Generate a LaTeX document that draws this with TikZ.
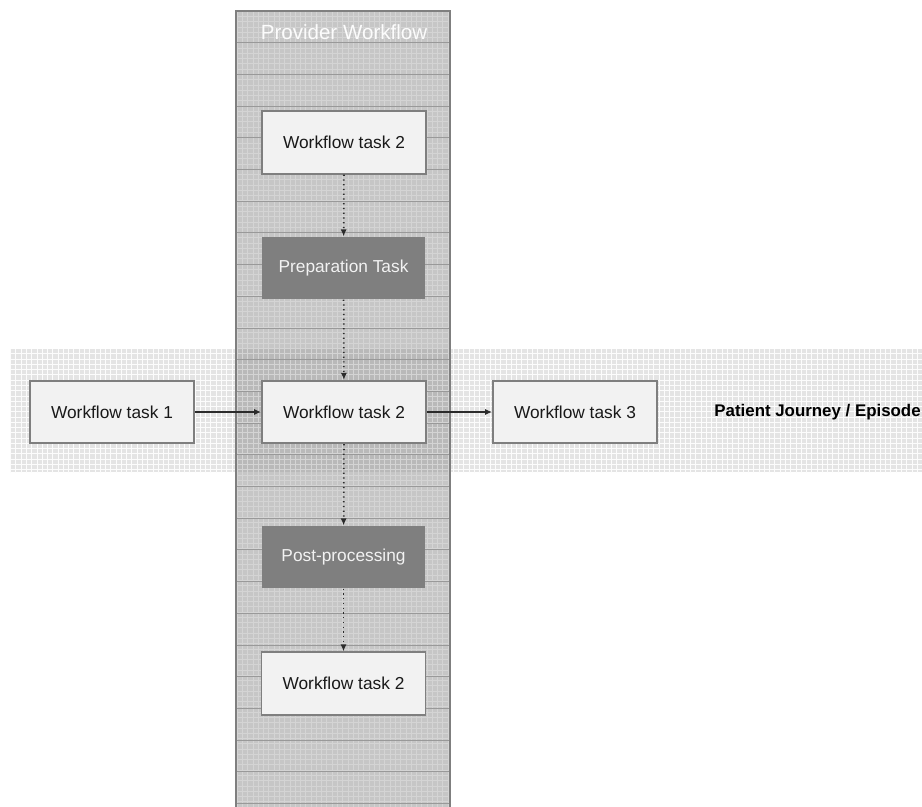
\documentclass[tikz,border=0pt]{standalone}
\usepackage{fontspec}
\setmainfont{Liberation Sans}
\usepackage{tikz}
\usetikzlibrary{arrows.meta, positioning, patterns}

\definecolor{laneGray}{HTML}{C6C6C6}
\definecolor{laneOver}{HTML}{B9B9B9}
\definecolor{laneLine}{HTML}{999999}
\definecolor{bandGray}{HTML}{E4E4E4}
\definecolor{taskFill}{HTML}{F2F2F2}
\definecolor{taskLine}{HTML}{7F7F7F}
\definecolor{darkTask}{HTML}{7F7F7F}
\definecolor{arrowGray}{HTML}{2B2B2B}

\begin{document}
\begin{tikzpicture}[x=0.02cm, y=-0.02cm,
    task/.style={draw=taskLine, line width=1pt, fill=taskFill, minimum width=3.28cm, minimum height=1.25cm,
        font=\fontsize{9.85}{12}\selectfont, text=black!90},
    subtask/.style={fill=darkTask, minimum width=3.26cm, minimum height=1.25cm,
        font=\fontsize{9.85}{12}\selectfont, text=taskFill},
    flow/.style={draw=arrowGray, line width=0.7pt, -{Latex[length=4pt, width=3.5pt]}},
    dotflow/.style={flow, dotted, line width=1pt}]
    \useasboundingbox (0,0) rectangle (922,807);

    % Patient journey band
    \fill[bandGray] (10,349) rectangle (922,472);
    \fill[pattern=grid, pattern color=white!90!bandGray] (10,349) rectangle (922,472);

    % Provider workflow lane
    \fill[laneGray] (236,11) rectangle (450,807);
    \fill[laneOver] (236,349) rectangle (450,472);
    \fill[pattern=grid, pattern color=white!25!laneGray] (236,11) rectangle (450,807);
    \foreach \k in {1,...,25} {
        \draw[laneLine, line width=0.5pt] (236,{11+31.7*\k}) -- (450,{11+31.7*\k});
    }
    \draw[taskLine, line width=0.9pt] (236,807) -- (236,11) -- (450,11) -- (450,807);
    \node[text=white!95!laneGray, font=\fontsize{11.7}{14}\selectfont] (lane_title) at (344,32) {Provider Workflow};

    % Tasks
    \node[task] (wf2_top) at (344,142.5) {Workflow task 2};
    \node[subtask] (prep) at (343.5,268) {Preparation Task};
    \node[task] (wf2_mid) at (344,412) {Workflow task 2};
    \node[task] (wf1) at (112,412) {Workflow task 1};
    \node[task] (wf3) at (575,412) {Workflow task 3};
    \node[subtask] (post) at (343.5,557) {Post-processing};
    \node[task] (wf2_bot) at (343.5,683.5) {Workflow task 2};

    \node[anchor=east, inner xsep=0pt, font=\bfseries\fontsize{9.6}{12}\selectfont] (journey) at (921,412) {Patient Journey / Episode};

    % Connections
    \draw[flow] (wf1) -- (wf2_mid);
    \draw[flow] (wf2_mid) -- (wf3);
    \draw[dotflow] (wf2_top) -- (prep);
    \draw[dotflow] (prep) -- (wf2_mid);
    \draw[dotflow] (wf2_mid) -- (post);
    \draw[dotflow] (post) -- (wf2_bot);
\end{tikzpicture}
\end{document}
